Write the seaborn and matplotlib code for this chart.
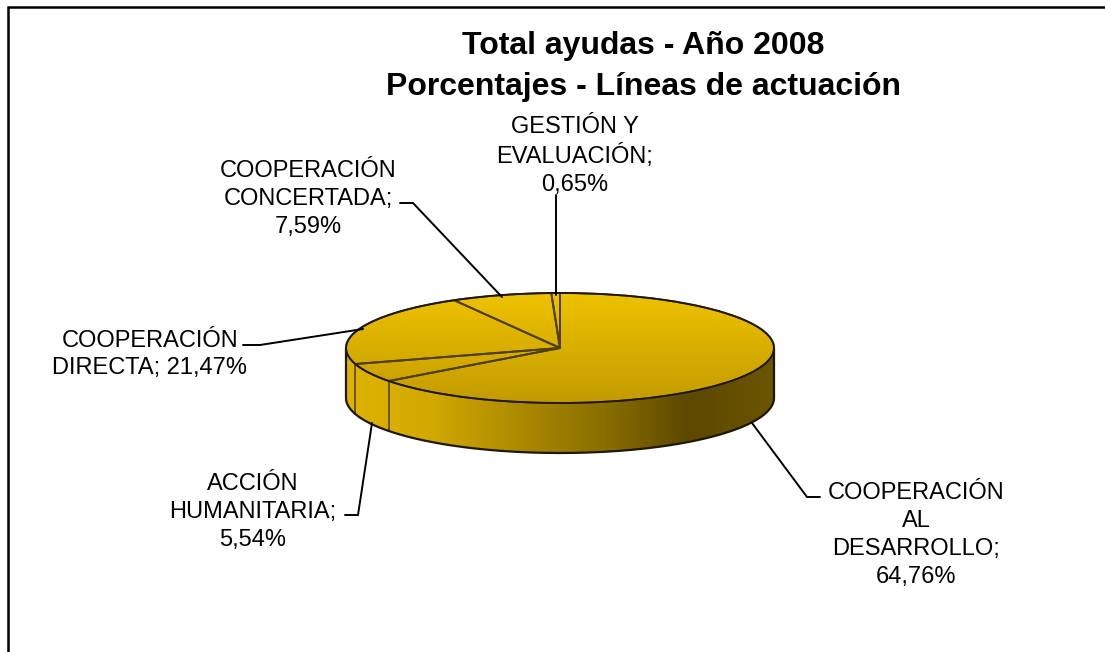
import numpy as np
import matplotlib
matplotlib.use("Agg")
import matplotlib.pyplot as plt
from matplotlib.patches import Ellipse, PathPatch
from matplotlib.path import Path
import seaborn as sns

W, H = 1105, 652

# ---- data ----
title = "Total ayudas - Año 2008\nPorcentajes - Líneas de actuación"
values = [64.76, 5.54, 21.47, 7.59, 0.65]
slice_labels = [
    "COOPERACIÓN\nAL\nDESARROLLO;\n64,76%",
    "ACCIÓN\nHUMANITARIA;\n5,54%",
    "COOPERACIÓN\nDIRECTA; 21,47%",
    "COOPERACIÓN\nCONCERTADA;\n7,59%",
    "GESTIÓN Y\nEVALUACIÓN;\n0,65%",
]

# ---- layout (pixels in the figure) ----
label_xy = [(916, 535), (253, 512), (150, 354.5), (308, 199), (575, 156)]
leaders = [
    [(752, 423), (807, 497), (820, 497)],
    [(345, 515), (358, 515), (372, 423)],
    [(243, 345), (260, 345), (363, 329)],
    [(400, 203), (413, 203), (502, 297)],
    [(556, 195), (556, 295)],
]
ell_left, ell_right, ell_top, ell_bot, wall_px = 346, 774, 293, 403, 50

sns.set_theme(style="white")
plt.rcParams["font.family"] = ["Liberation Sans", "DejaVu Sans"]
fig = plt.figure(figsize=(W / 100, H / 100), dpi=100, facecolor="white")

# ---- pie ----
depth = wall_px / ((ell_bot - ell_top) / 2)
total_px = (ell_bot - ell_top) + wall_px
ax = fig.add_axes([ell_left / W, 1 - (ell_top + total_px) / H,
                   (ell_right - ell_left) / W, total_px / H])
edge = "#1e1800"
wedges, _ = ax.pie(values, startangle=90, counterclock=False, radius=1,
                   wedgeprops=dict(facecolor="none", edgecolor="#4f3f00",
                                   linewidth=1.4, zorder=4))
ax.set_aspect("auto")
ax.set_xlim(-1, 1)
ax.set_ylim(-1 - depth, 1)
ax.axis("off")

top_cmap = sns.blend_palette(["#EEC200", "#C39B00"], as_cmap=True)
wall_cmap = sns.blend_palette(["#DFB300", "#D2A900", "#AD8B00", "#8A6F00", "#5C4800", "#6B5500"],
                              as_cmap=True)

# top face gradient
disc = Ellipse((0, 0), 2, 2, transform=ax.transData, facecolor="none", edgecolor="none")
ax.add_patch(disc)
top_img = ax.imshow(np.linspace(0, 1, 256)[:, None], cmap=top_cmap, origin="upper",
                    extent=(-1, 1, -1, 1), aspect="auto", zorder=3)
top_img.set_clip_path(disc)

# side wall gradient
t = np.linspace(np.pi, 2 * np.pi, 181)
wx = np.r_[np.cos(t), np.cos(t[::-1])]
wy = np.r_[np.sin(t), np.sin(t[::-1]) - depth]
wall = PathPatch(Path(np.c_[wx, wy]), transform=ax.transData, facecolor="none", edgecolor="none")
ax.add_patch(wall)
wall_img = ax.imshow(np.linspace(0, 1, 256)[None, :], cmap=wall_cmap,
                     extent=(-1, 1, -1 - depth, 1), aspect="auto", zorder=2)
wall_img.set_clip_path(wall)
ax.set_xlim(-1, 1)
ax.set_ylim(-1 - depth, 1)

# outline of wall and top
ax.plot(np.cos(t), np.sin(t) - depth, color=edge, lw=1.6, zorder=5, clip_on=False)
ax.plot([-1, -1], [0, -depth], color=edge, lw=1.6, zorder=5, clip_on=False)
ax.plot([1, 1], [0, -depth], color=edge, lw=1.6, zorder=5, clip_on=False)
tt = np.linspace(0, 2 * np.pi, 361)
ax.plot(np.cos(tt), np.sin(tt), color=edge, lw=1.3, zorder=5, clip_on=False)

# slice boundaries on the visible wall
ang = np.cumsum(values) / sum(values) * 2 * np.pi
for a in ang:
    bx, by = np.sin(a), np.cos(a)
    if by < 0:
        ax.plot([bx, bx], [by, by - depth], color="#5e4b00", lw=1.3, zorder=4)

# ---- overlay: frame, leaders, text ----
ov = fig.add_axes([0, 0, 1, 1], facecolor="none")
ov.set_xlim(0, W)
ov.set_ylim(H, 0)
ov.axis("off")
ov.plot([8, 8, W], [H, 7, 7], color="black", lw=1.8, solid_joinstyle="miter")
for pts in leaders:
    xs, ys = zip(*pts)
    ov.plot(xs, ys, color="black", lw=1.4, solid_joinstyle="miter")
for (x, y), s in zip(label_xy, slice_labels):
    ov.text(x, y, s, ha="center", va="center", fontsize=17.0, color="black",
            linespacing=1.335)
ov.text(643, 66.5, title, ha="center", va="center", fontsize=23, fontweight="bold",
        color="black", linespacing=1.48)

fig.savefig("out.png", dpi=100)
